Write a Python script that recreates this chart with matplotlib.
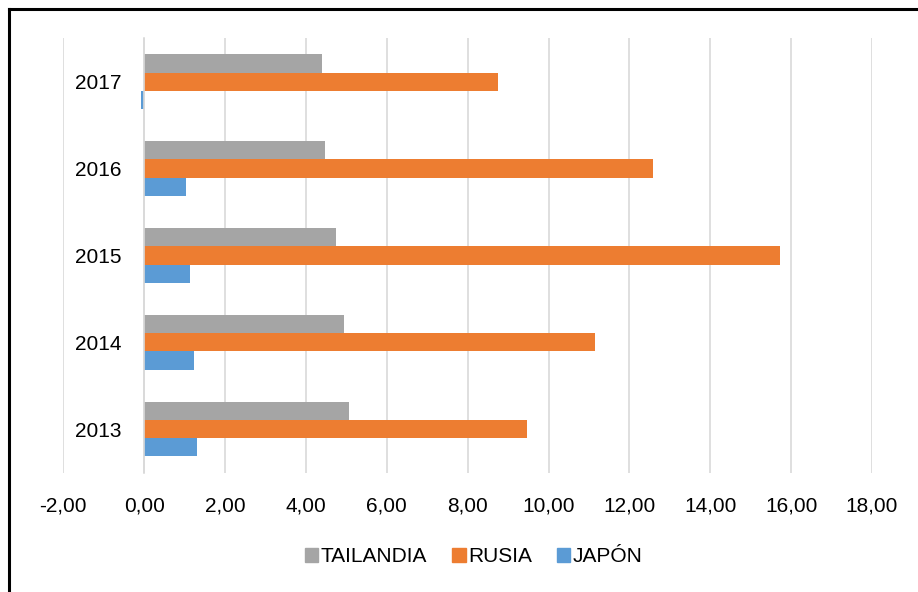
import matplotlib
matplotlib.use("Agg")
import matplotlib.pyplot as plt
from matplotlib.lines import Line2D
from matplotlib.patches import Patch
from matplotlib.ticker import FuncFormatter
import numpy as np

# --- Données ---
anios = ["2013", "2014", "2015", "2016", "2017"]
tailandia = [5.07, 4.95, 4.75, 4.47, 4.41]
rusia = [9.46, 11.14, 15.73, 12.59, 8.74]
japon = [1.30, 1.22, 1.14, 1.04, -0.09]

series = ["TAILANDIA", "RUSIA", "JAPÓN"]
colores = ["#A5A5A5", "#ED7D31", "#5B9BD5"]

plt.rcParams['font.family'] = ['Liberation Sans Narrow', 'Liberation Sans', 'DejaVu Sans']

fig = plt.figure(figsize=(9.18, 5.92), dpi=100)
ax = fig.add_axes([63.3 / 918, 1 - 472.7 / 592, (872 - 63.3) / 918, (472.7 - 38.2) / 592])

y = np.arange(len(anios))
h = 0.209
ax.barh(y + h, tailandia, height=h, color=colores[0])
ax.barh(y, rusia, height=h, color=colores[1])
ax.barh(y - h, japon, height=h, color=colores[2])

ax.set_xlim(-2, 18)
ax.set_ylim(-0.5, len(anios) - 0.5)
ax.set_xticks(np.arange(-2, 19, 2))
ax.xaxis.set_major_formatter(FuncFormatter(lambda v, p: f"{v:.2f}".replace('.', ',')))
ax.set_yticks(y)
ax.set_yticklabels(anios)

# grille verticale
ax.grid(axis='x', color='#D9D9D9', linewidth=1.2)
ax.set_axisbelow(True)

for s in ['top', 'right', 'bottom']:
    ax.spines[s].set_visible(False)
ax.spines['left'].set_position(('data', 0))
ax.spines['left'].set_color('#D9D9D9')
ax.spines['left'].set_linewidth(1.2)

ax.tick_params(axis='y', length=0, pad=16.5, labelsize=15)
ax.tick_params(axis='x', length=0, pad=17, labelsize=15)

# légende
handles = [Patch(color=c, label=s) for c, s in zip(colores, series)]
fig.legend(handles=handles, loc='center', bbox_to_anchor=(0.516, 1 - 557 / 592), ncol=3,
           frameon=False, fontsize=15, handlelength=0.65, handleheight=0.65,
           handletextpad=0.12, columnspacing=1.2)

# cadre (haut et gauche)
lw = 2.2
fig.add_artist(Line2D([9 / 918, 9 / 918], [0, 1 - 9 / 592], transform=fig.transFigure, color='black', linewidth=lw))
fig.add_artist(Line2D([9 / 918, 1], [1 - 9 / 592, 1 - 9 / 592], transform=fig.transFigure, color='black', linewidth=lw))

fig.savefig("out.png", dpi=100)
